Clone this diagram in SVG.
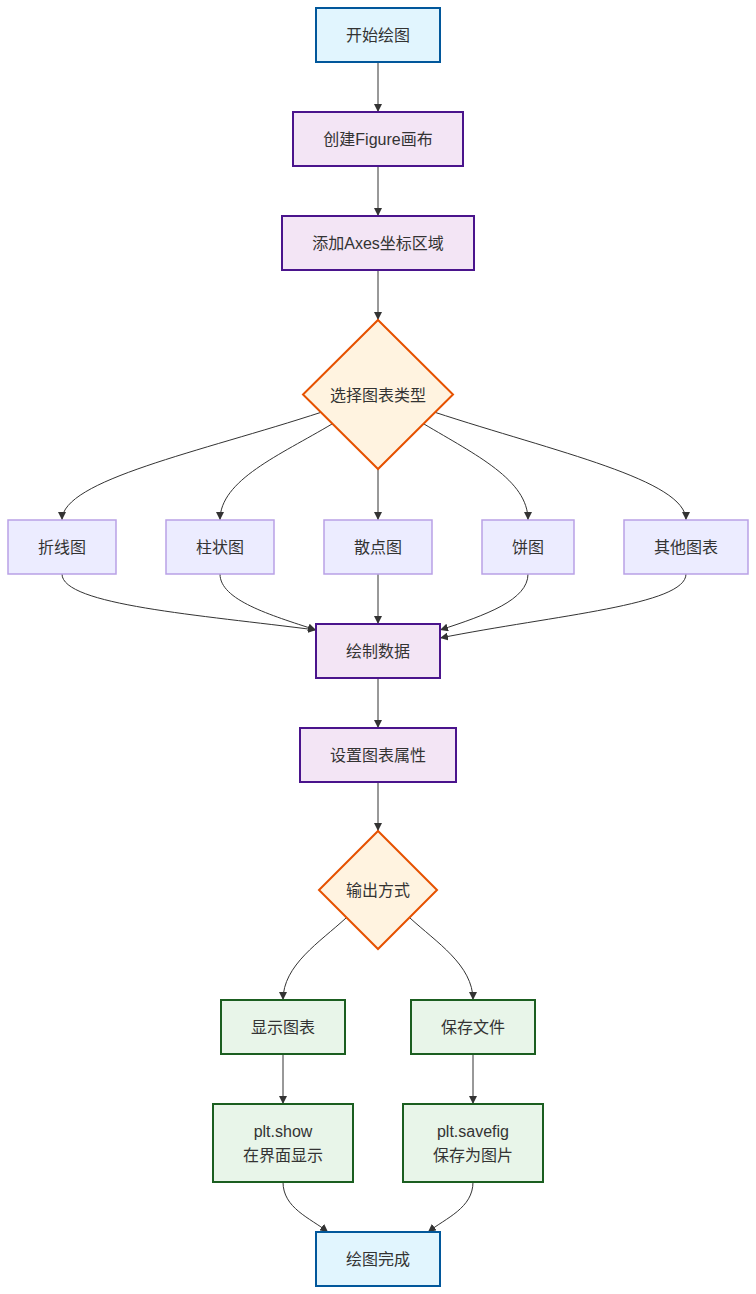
<svg xmlns="http://www.w3.org/2000/svg" width="756" height="1294" viewBox="0 0 756 1294">
<style>
text{font-family:"Liberation Sans",Arial,"Noto Sans CJK SC",sans-serif;font-size:16px;fill:#333;text-anchor:middle;dominant-baseline:central}
.blue{fill:#e1f5fe;stroke:#01579b;stroke-width:2}
.pur{fill:#f3e5f5;stroke:#4a148c;stroke-width:2}
.dec{fill:#fff3e0;stroke:#e65100;stroke-width:2}
.def{fill:#ececff;stroke:#b9a1e6;stroke-width:1.5}
.grn{fill:#e8f5e9;stroke:#1b5e20;stroke-width:2}
.e{fill:none;stroke:#333;stroke-width:1;marker-end:url(#a)}
</style>
<defs><marker id="a" viewBox="0 0 10 10" refX="10" refY="5" markerWidth="8" markerHeight="8" orient="auto"><path d="M0,0L10,5L0,10z" fill="#333"/></marker></defs>
<g id="edges">
<path class="e" d="M378,62V112"/>
<path class="e" d="M378,166V216"/>
<path class="e" d="M378,270V320"/>
<path class="e" d="M322,412C200,452 62,480 62,520"/>
<path class="e" d="M332,424C280,455 220,480 220,520"/>
<path class="e" d="M378,469V520"/>
<path class="e" d="M424,424C476,455 528,480 528,520"/>
<path class="e" d="M434,412C556,452 686,480 686,520"/>
<path class="e" d="M62,574C62,605 200,615 316,630"/>
<path class="e" d="M220,574C220,600 270,615 316,630"/>
<path class="e" d="M378,574V624"/>
<path class="e" d="M528,574C528,600 486,615 440,630"/>
<path class="e" d="M686,574C686,605 556,615 440,638"/>
<path class="e" d="M378,678V728"/>
<path class="e" d="M378,782V831"/>
<path class="e" d="M346,918C320,942 283,965 283,1000"/>
<path class="e" d="M410,918C436,942 473,965 473,1000"/>
<path class="e" d="M283,1054V1104"/>
<path class="e" d="M473,1054V1104"/>
<path class="e" d="M283,1182C283,1208 310,1218 328,1232"/>
<path class="e" d="M473,1182C473,1208 446,1218 428,1232"/>
</g>
<g id="n1"><rect class="blue" x="316" y="8" width="124" height="54"/><text x="378" y="35">开始绘图</text></g>
<g id="n2"><rect class="pur" x="293" y="112" width="170" height="54"/><text x="378" y="139">创建Figure画布</text></g>
<g id="n3"><rect class="pur" x="282" y="216" width="192" height="54"/><text x="378" y="243">添加Axes坐标区域</text></g>
<g id="n4"><path class="dec" d="M378,320L453,394.5L378,469L303,394.5Z"/><text x="378" y="395">选择图表类型</text></g>
<g id="n5"><rect class="def" x="8" y="520" width="108" height="54"/><text x="62" y="547">折线图</text></g>
<g id="n6"><rect class="def" x="166" y="520" width="108" height="54"/><text x="220" y="547">柱状图</text></g>
<g id="n7"><rect class="def" x="324" y="520" width="108" height="54"/><text x="378" y="547">散点图</text></g>
<g id="n8"><rect class="def" x="482" y="520" width="92" height="54"/><text x="528" y="547">饼图</text></g>
<g id="n9"><rect class="def" x="624" y="520" width="124" height="54"/><text x="686" y="547">其他图表</text></g>
<g id="n10"><rect class="pur" x="316" y="624" width="124" height="54"/><text x="378" y="651">绘制数据</text></g>
<g id="n11"><rect class="pur" x="300" y="728" width="156" height="54"/><text x="378" y="755">设置图表属性</text></g>
<g id="n12"><path class="dec" d="M378,831L437,890L378,949L319,890Z"/><text x="378" y="890">输出方式</text></g>
<g id="n13"><rect class="grn" x="221" y="1000" width="124" height="54"/><text x="283" y="1027">显示图表</text></g>
<g id="n14"><rect class="grn" x="411" y="1000" width="124" height="54"/><text x="473" y="1027">保存文件</text></g>
<g id="n15"><rect class="grn" x="213" y="1104" width="140" height="78"/><text x="283" y="1131">plt.show</text><text x="283" y="1155">在界面显示</text></g>
<g id="n16"><rect class="grn" x="403" y="1104" width="140" height="78"/><text x="473" y="1131">plt.savefig</text><text x="473" y="1155">保存为图片</text></g>
<g id="n17"><rect class="blue" x="316" y="1232" width="124" height="54"/><text x="378" y="1259">绘图完成</text></g>
</svg>
